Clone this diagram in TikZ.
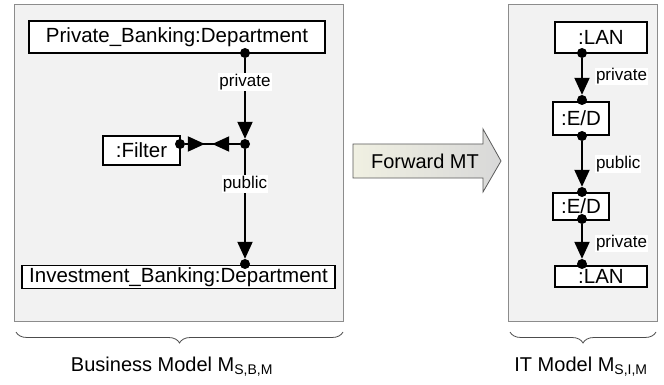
\documentclass[tikz,border=0pt]{standalone}
\usepackage{fontspec}
\setmainfont{Liberation Sans}
\usetikzlibrary{arrows.meta,decorations.pathreplacing}

\definecolor{panelfill}{HTML}{F2F2F2}
\definecolor{paneldraw}{HTML}{8C8C8C}
\definecolor{mtleft}{HTML}{F0F0E2}
\definecolor{mtright}{HTML}{D8D8D8}

\tikzset{
  panel/.style={draw=paneldraw, fill=panelfill, line width=1pt},
  obj/.style={draw, line width=1.2pt, fill=white, inner sep=0pt, font=\fontsize{20.5}{24}\selectfont},
  wire/.style={line width=2pt},
  conn/.style={wire, -{Triangle[width=15pt,length=17pt]}},
  lbl/.style={fill=white, inner sep=1pt, font=\fontsize{17}{20}\selectfont},
  dot/.style={circle, fill, inner sep=0pt, minimum size=10pt},
  modelbrace/.style={decorate, decoration={brace, mirror, amplitude=11pt}, draw=black!70, line width=0.8pt},
  caption/.style={font=\fontsize{20}{24}\selectfont}
}

\begin{document}
\begin{tikzpicture}[x=1pt,y=-1pt]
        \useasboundingbox (0,0) rectangle (664,385);

        % panels
        \draw[panel] (14,5) rectangle (343,321);
        \draw[panel] (508,5) rectangle (657,321);

        % business model
        \node[obj, minimum width=296pt, minimum height=32pt] (pbd) at (177,37) {Private\_Banking:Department};
        \node[obj, minimum width=313pt, minimum height=23pt] (ibd) at (178.5,277) {Investment\_Banking:Department};
        \node[obj, minimum width=77pt, minimum height=29pt] (filter) at (141.5,150.5) {:Filter};

        \node[dot] (pdot) at (245,53) {};
        \node[dot] (jdot) at (245,144) {};
        \node[dot] (fdot) at (180,144) {};
        \node[dot] (idot) at (245,264) {};

        \draw[conn] (pdot) -- node[lbl, pos=0.3] {private} (jdot);
        \draw[conn] (jdot) -- node[lbl, pos=0.32] {public} (idot);
        \draw[wire] (fdot) -- (jdot);
        \draw[conn, shorten >=35pt] (fdot) -- (jdot);
        \draw[conn, shorten >=27pt] (jdot) -- (fdot);

        % transformation
        \shade[left color=mtleft, right color=mtright, draw=black!65, line width=0.8pt]
          (353,144) -- (483,144) -- (483,129) -- (501,161) -- (483,192) -- (483,178) -- (353,178) -- cycle;
        \node[font=\fontsize{20}{24}\selectfont] (fmt) at (425,161) {Forward MT};

        % it model
        \node[obj, minimum width=92pt, minimum height=31pt] (lanA) at (601,37.5) {:LAN};
        \node[obj, minimum width=56pt, minimum height=33pt] (edA) at (581,118.5) {:E/D};
        \node[obj, minimum width=56pt, minimum height=27pt] (edB) at (581,206.5) {:E/D};
        \node[obj, minimum width=92pt, minimum height=21pt] (lanB) at (601,276.5) {:LAN};

        \node[dot] (lanAdot) at (582,53) {};
        \node[dot] (edAin) at (582,100) {};
        \node[dot] (edAout) at (582,136) {};
        \node[dot] (edBin) at (582,192) {};
        \node[dot] (edBout) at (582,219) {};
        \node[dot] (lanBdot) at (582,264) {};

        \draw[conn] (lanAdot) -- node[lbl, right, xshift=12pt] {private} (edAin);
        \draw[conn] (edAout) -- node[lbl, right, xshift=12pt] {public} (edBin);
        \draw[conn] (edBout) -- node[lbl, right, xshift=12pt, yshift=-2pt] {private} (lanBdot);

        % braces
        \draw[modelbrace] (16,332) -- (343,332);
        \draw[modelbrace] (510,332) -- (656,332);
        \node[caption] (bm) at (172,367) {Business Model M\textsubscript{S,B,M}};
        \node[caption] (itm) at (581,367) {IT Model M\textsubscript{S,I,M}};

      \end{tikzpicture}
\end{document}
